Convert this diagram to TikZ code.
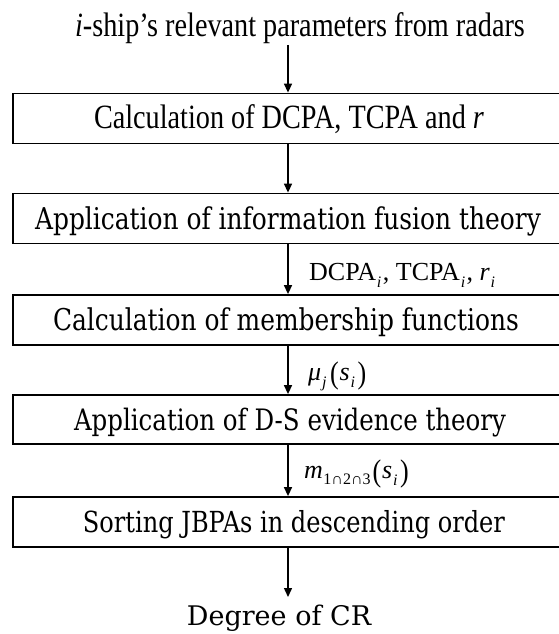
\documentclass[tikz,border=0pt]{standalone}
\usepackage{fontspec}
\usepackage{graphicx}
\setmainfont{Liberation Serif}[FakeStretch=0.83]
\newfontfamily\widefont{DejaVu Serif}[FakeStretch=0.83]
\newfontfamily\plainwide{DejaVu Serif}
\newfontfamily\labelfont{Liberation Serif}
\usetikzlibrary{arrows.meta}
% lowered italic subscript and tall parentheses for the flow labels
\newcommand\sbi[1]{\kern0.8pt\raisebox{-0.28em}{\fontsize{16}{16}\selectfont\textit{#1}}\kern1.5pt}
\newcommand\tallp[1]{\raisebox{-0.12em}{\scalebox{1}[1.2]{#1}}}
\begin{document}
\begin{tikzpicture}[x=1pt,y=-1pt,
  stepbox/.style={draw, line width=1.8pt, minimum width=560pt, minimum height=50pt, inner sep=0pt},
  flow/.style={-{Triangle[length=9pt,width=8pt]}, line width=1.4pt},
  times/.style={font=\fontsize{34}{40}\selectfont, inner sep=0pt, anchor=base},
  wide/.style={font=\widefont\fontsize{30}{36}\selectfont, inner sep=0pt, anchor=base},
  lbl/.style={font=\labelfont\fontsize{26}{30}\selectfont, anchor=base west, inner sep=0pt}]
\useasboundingbox (0,0) rectangle (558,634);

% process boxes (right side runs off the page)
\node[stepbox] (b1) at (293,118.5) {};
\node[stepbox] (b2) at (293,218.5) {};
\node[stepbox] (b3) at (293,320) {};
\node[stepbox, minimum height=49pt] (b4) at (293,419.5) {};
\node[stepbox] (b5) at (293,522) {};

% texts
\node[times] (src) at (300,37) {\textit{i}-ship’s relevant parameters from radars};
\node[times] (t1) at (289,128) {Calculation of DCPA, TCPA and \textit{r}};
\node[wide] (t2) at (288,229) {Application of information fusion theory};
\node[wide] (t3) at (286,330) {Calculation of membership functions};
\node[wide, font=\widefont\fontsize{29.5}{36}\selectfont] (t4) at (290,430) {Application of D-S evidence theory};
\node[wide, font=\widefont\fontsize{29}{36}\selectfont] (t5) at (294,532) {Sorting JBPAs in descending order};
\node[wide, font=\plainwide\fontsize{27}{32}\selectfont] (res) at (279,625) {Degree of CR};

% flow arrows
\coordinate (s0) at (288,45);
\coordinate (e6) at (288,597);
\draw[flow] (s0) -- (s0 |- b1.north);
\draw[flow] (s0 |- b1.south) -- (s0 |- b2.north);
\draw[flow] (s0 |- b2.south) -- (s0 |- b3.north);
\draw[flow] (s0 |- b3.south) -- (s0 |- b4.north);
\draw[flow] (s0 |- b4.south) -- (s0 |- b5.north);
\draw[flow] (s0 |- b5.south) -- (e6);

% arrow labels
\node[lbl] (l3) at (309,280) {DCPA\sbi{i}, TCPA\sbi{i}, \textit{r}\sbi{i}};
\node[lbl] (l4) at (308,380) {\textit{μ}\sbi{j}\kern2pt\tallp{(}\kern1pt\textit{s}\sbi{i}\kern1pt\tallp{)}};
\node[lbl] (l5) at (304,478) {\textit{m}\kern0.5pt\raisebox{-0.25em}{\fontsize{16}{16}\selectfont 1∩2∩3}\kern2pt\tallp{(}\kern1pt\textit{s}\sbi{i}\kern1pt\tallp{)}};
\end{tikzpicture}
\end{document}
